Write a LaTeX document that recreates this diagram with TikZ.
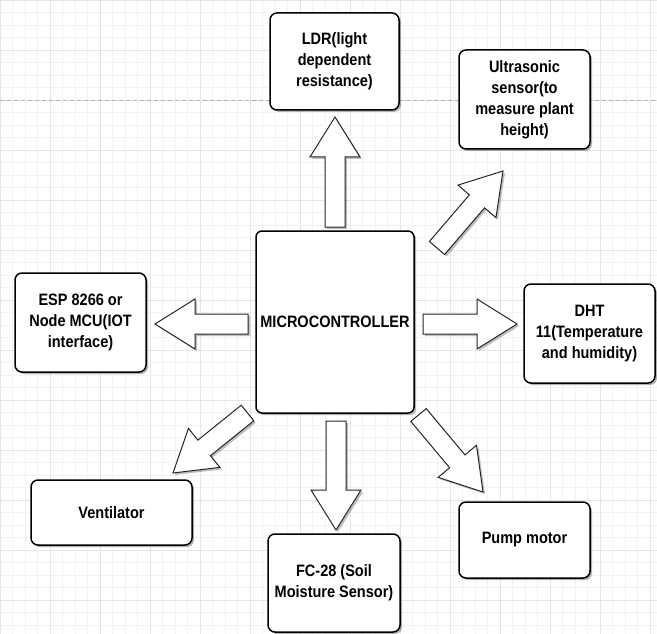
\documentclass[tikz,border=0pt]{standalone}
\usepackage{fontspec}
\setmainfont{Liberation Sans}[FakeStretch=0.88]
\usetikzlibrary{calc,shadows}

% hollow block arrow from tail coordinate #1 to tip coordinate #2
\newcommand{\blockarrow}[2]{%
  \coordinate (#1b) at ($(#2)!40pt!(#1)$);
  \draw[hollow] ($(#1)!10pt!90:(#2)$) -- ($(#1b)!10pt!90:(#2)$) -- ($(#1b)!25pt!90:(#2)$) -- (#2)
    -- ($(#1b)!25pt!-90:(#2)$) -- ($(#1b)!10pt!-90:(#2)$) -- ($(#1)!10pt!-90:(#2)$) -- cycle;}

\begin{document}
\begin{tikzpicture}[x=1pt,y=-1pt,
    box/.style={draw=black,line width=1.5pt,rounded corners=7pt,fill=white,align=center,inner sep=2pt,
      font=\bfseries\fontsize{16.5}{21}\selectfont,
      drop shadow={shadow xshift=2pt,shadow yshift=-2pt,opacity=0.3,fill=black}},
    hollow/.style={draw=black!85,line width=1pt,fill=white,line join=miter,
      drop shadow={shadow xshift=2pt,shadow yshift=-2pt,opacity=0.25,fill=black}}]

	\fill[white] (0,0) rectangle (657,634);
	\useasboundingbox (0,0) rectangle (657,634);
	\draw[gray!10,line width=0.4pt] (0,0) grid[step=12.5pt] (657,634);
	\draw[gray!20,line width=0.5pt] (0,0) grid[step=50pt] (657,634);
	\draw[gray!60,dash pattern=on 4pt off 3pt] (0,100) -- (657,100);

	\node (mcu)  at (335,322)     [box,rounded corners=6pt,minimum width=158pt,minimum height=182pt] {MICROCONTROLLER};
	\node (ldr)  at (334.5,61.5)  [box,minimum width=129pt,minimum height=97pt] {LDR(light\\dependent\\resistance)};
	\node (ultra) at (524.5,99.5) [box,minimum width=131pt,minimum height=99pt] {Ultrasonic\\sensor(to\\measure plant\\height)};
	\node (esp)  at (80.5,322.5)  [box,minimum width=131pt,minimum height=99pt] {ESP 8266 or\\Node MCU(IOT\\interface)};
	\node (dht)  at (589.5,333.5) [box,minimum width=131pt,minimum height=99pt] {DHT\\11(Temperature\\and humidity)};
	\node (vent) at (111.5,512.5) [box,minimum width=161pt,minimum height=65pt] {Ventilator};
	\node (soil) at (334,583)     [box,minimum width=132pt,minimum height=98pt] {FC-28 (Soil\\Moisture Sensor)};
	\node (pump) at (524.5,540)   [box,minimum width=131pt,minimum height=76pt] {Pump motor};

	\coordinate (up-s) at (335,227);   \coordinate (up-t) at (335,117);
	\coordinate (ur-s) at (437,248);   \coordinate (ur-t) at (503,171);
	\coordinate (lt-s) at (248,324);   \coordinate (lt-t) at (155,324);
	\coordinate (rt-s) at (423,324);   \coordinate (rt-t) at (517,324);
	\coordinate (dl-s) at (247.5,413); \coordinate (dl-t) at (173,473);
	\coordinate (dn-s) at (336,421);   \coordinate (dn-t) at (336,530);
	\coordinate (dr-s) at (418.5,415); \coordinate (dr-t) at (483,492);

	\blockarrow{up-s}{up-t}
	\blockarrow{ur-s}{ur-t}
	\blockarrow{lt-s}{lt-t}
	\blockarrow{rt-s}{rt-t}
	\blockarrow{dl-s}{dl-t}
	\blockarrow{dn-s}{dn-t}
	\blockarrow{dr-s}{dr-t}

\end{tikzpicture}
\end{document}
